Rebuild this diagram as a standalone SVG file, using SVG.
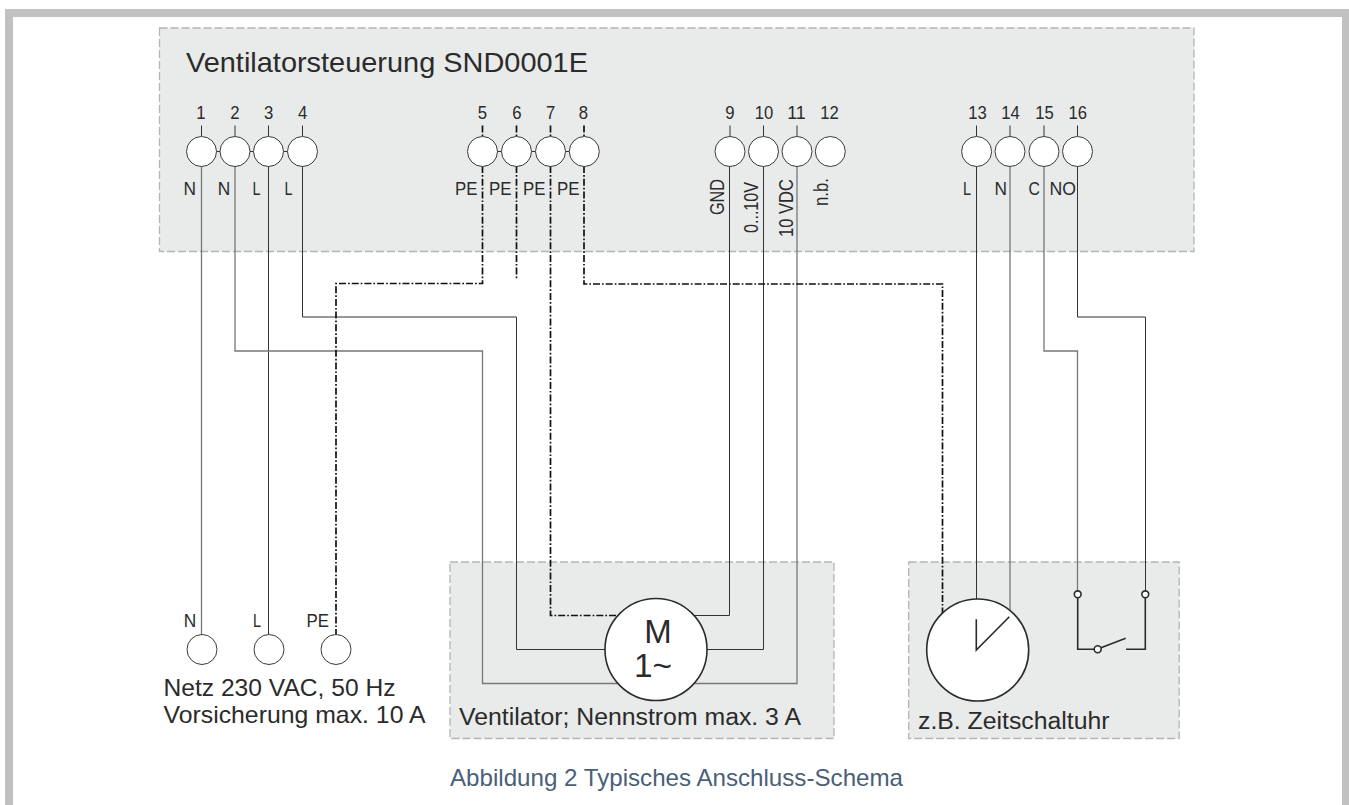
<svg xmlns="http://www.w3.org/2000/svg" width="1349" height="805" viewBox="0 0 1349 805">
<style>
text{font-family:"Liberation Sans",Arial,sans-serif;fill:#2b2b2b}
.box{fill:#e9eaea;stroke:#b5b5b5;stroke-width:1.3;stroke-dasharray:8 3}
.t{fill:#fff;stroke:#3a3a3a;stroke-width:1}
.w{fill:none;stroke:#333;stroke-width:1}
.g{fill:none;stroke:#777;stroke-width:1.3}
.pe{fill:none;stroke:#111;stroke-width:1.7;stroke-dasharray:7 2 1.7 2}
.big{fill:#fff;stroke:#2b2b2b;stroke-width:1.6}
.sw{fill:none;stroke:#2b2b2b;stroke-width:1.6}
.n{font-size:19px;text-anchor:middle}
.l{font-size:18.5px}
.r{font-size:20px}
</style>
<g id="frame"><path d="M9 805V13H1346V805" fill="none" stroke="#c1c1c1" stroke-width="8"/></g>
<g id="boxes">
<rect id="controller" class="box" x="159.5" y="28" width="1034.5" height="223.5"/>
<rect id="fan" class="box" x="450" y="562" width="384" height="176.5"/>
<rect id="timer" class="box" x="908.7" y="562" width="270.5" height="176.5"/>
</g>
<g id="connectors">
<path class="w" d="M201.5 125.500V136M235 125.500V136M268.500 125.500V136M302.500 125.500V136M730 125.500V136M763.500 125.500V136M797 125.500V136M976.500 125.500V136M1010 125.500V136M1044 125.500V136M1077.500 125.500V136"/>
<path class="pe" d="M482.500 125.500V136M516.500 125.500V136M550.500 125.500V136M584 125.500V136"/>
<path class="w" d="M216.500 151.500H220.500M250 151.500H253.500M283.500 151.500H287.500M497.500 151.500H501.500M531.500 151.500H535.500M565.500 151.500H569"/>
<path class="g" d="M201.500 166V634"/>
<path class="w" d="M268.500 166V634"/>
<path class="g" d="M235 166V351H482.500V683.500H640"/>
<path class="w" d="M302.500 166V317H516.500V649.500H620"/>
<path class="w" d="M729.500 166V615.500H680"/>
<path class="w" d="M763.500 166V649.500H690"/>
<path class="g" d="M797 166V683.500H680"/>
<path class="w" d="M976.500 166V605"/>
<path class="g" d="M1010 166V615"/>
<path class="g" d="M1044 166V351H1077.500V591"/>
<path class="w" d="M1077.500 166V317H1145.500V591"/>
<path class="pe" d="M482.500 166V283.500H336V634"/>
<path class="pe" d="M516.500 166V279"/>
<path class="pe" d="M550.500 166V615.500H630"/>
<path class="pe" d="M584 166V284H942.500V613"/>
</g>
<g id="title"><text x="186" y="71.500" font-size="28.500" textLength="402" lengthAdjust="spacingAndGlyphs">Ventilatorsteuerung SND0001E</text></g>
<g id="terminal-1"><circle class="t" cx="201.500" cy="151.500" r="15"/><text class="n" x="201" y="119" textLength="9.300" lengthAdjust="spacingAndGlyphs">1</text><text class="l" x="183.500" y="195" textLength="12.500" lengthAdjust="spacingAndGlyphs">N</text></g>
<g id="terminal-2"><circle class="t" cx="235" cy="151.500" r="15"/><text class="n" x="235" y="119" textLength="9.300" lengthAdjust="spacingAndGlyphs">2</text><text class="l" x="217.800" y="195" textLength="12.500" lengthAdjust="spacingAndGlyphs">N</text></g>
<g id="terminal-3"><circle class="t" cx="268.500" cy="151.500" r="15"/><text class="n" x="268.700" y="119" textLength="9.300" lengthAdjust="spacingAndGlyphs">3</text><text class="l" x="252.500" y="195" textLength="8" lengthAdjust="spacingAndGlyphs">L</text></g>
<g id="terminal-4"><circle class="t" cx="302.500" cy="151.500" r="15"/><text class="n" x="302.700" y="119" textLength="9.300" lengthAdjust="spacingAndGlyphs">4</text><text class="l" x="284.500" y="195" textLength="8" lengthAdjust="spacingAndGlyphs">L</text></g>
<g id="terminal-5"><circle class="t" cx="482.500" cy="151.500" r="15"/><text class="n" x="482.300" y="119" textLength="9.300" lengthAdjust="spacingAndGlyphs">5</text><text class="l" x="455" y="195" textLength="22.500" lengthAdjust="spacingAndGlyphs">PE</text></g>
<g id="terminal-6"><circle class="t" cx="516.500" cy="151.500" r="15"/><text class="n" x="517" y="119" textLength="9.300" lengthAdjust="spacingAndGlyphs">6</text><text class="l" x="489" y="195" textLength="22.500" lengthAdjust="spacingAndGlyphs">PE</text></g>
<g id="terminal-7"><circle class="t" cx="550.500" cy="151.500" r="15"/><text class="n" x="550.700" y="119" textLength="9.300" lengthAdjust="spacingAndGlyphs">7</text><text class="l" x="523" y="195" textLength="22.500" lengthAdjust="spacingAndGlyphs">PE</text></g>
<g id="terminal-8"><circle class="t" cx="584.300" cy="151.500" r="15"/><text class="n" x="583.300" y="119" textLength="9.300" lengthAdjust="spacingAndGlyphs">8</text><text class="l" x="557" y="195" textLength="22.500" lengthAdjust="spacingAndGlyphs">PE</text></g>
<g id="terminal-9"><circle class="t" cx="730" cy="151.500" r="15"/><text class="n" x="730" y="119" textLength="9.300" lengthAdjust="spacingAndGlyphs">9</text><text class="r" transform="translate(724.300 215) rotate(-90)" textLength="36" lengthAdjust="spacingAndGlyphs">GND</text></g>
<g id="terminal-10"><circle class="t" cx="763.500" cy="151.500" r="15"/><text class="n" x="764" y="119" textLength="18.500" lengthAdjust="spacingAndGlyphs">10</text><text class="r" transform="translate(758.300 233) rotate(-90)" textLength="51" lengthAdjust="spacingAndGlyphs">0...10V</text></g>
<g id="terminal-11"><circle class="t" cx="797" cy="151.500" r="15"/><text class="n" x="796.500" y="119" textLength="18.500" lengthAdjust="spacingAndGlyphs">11</text><text class="r" transform="translate(792.700 237) rotate(-90)" textLength="58" lengthAdjust="spacingAndGlyphs">10 VDC</text></g>
<g id="terminal-12"><circle class="t" cx="830.300" cy="151.500" r="15"/><text class="n" x="829.600" y="119" textLength="18.500" lengthAdjust="spacingAndGlyphs">12</text><text class="r" transform="translate(828.300 206) rotate(-90)" textLength="28" lengthAdjust="spacingAndGlyphs">n.b.</text></g>
<g id="terminal-13"><circle class="t" cx="976.600" cy="151.500" r="15"/><text class="n" x="977.400" y="119" textLength="18.500" lengthAdjust="spacingAndGlyphs">13</text><text class="l" x="963" y="195" textLength="8" lengthAdjust="spacingAndGlyphs">L</text></g>
<g id="terminal-14"><circle class="t" cx="1010" cy="151.500" r="15"/><text class="n" x="1010.500" y="119" textLength="18.500" lengthAdjust="spacingAndGlyphs">14</text><text class="l" x="994.500" y="195" textLength="12.500" lengthAdjust="spacingAndGlyphs">N</text></g>
<g id="terminal-15"><circle class="t" cx="1044" cy="151.500" r="15"/><text class="n" x="1044.400" y="119" textLength="18.500" lengthAdjust="spacingAndGlyphs">15</text><text class="l" x="1028.500" y="195" textLength="11.400" lengthAdjust="spacingAndGlyphs">C</text></g>
<g id="terminal-16"><circle class="t" cx="1077.500" cy="151.500" r="15"/><text class="n" x="1077.800" y="119" textLength="18.500" lengthAdjust="spacingAndGlyphs">16</text><text class="l" x="1049.500" y="195" textLength="26.500" lengthAdjust="spacingAndGlyphs">NO</text></g>
<g id="mains-n"><circle class="t" cx="202" cy="649.500" r="15"/><text class="l" x="183.800" y="626.700" textLength="12.500" lengthAdjust="spacingAndGlyphs">N</text></g>
<g id="mains-l"><circle class="t" cx="269" cy="649.500" r="15"/><text class="l" x="253" y="626.700" textLength="8" lengthAdjust="spacingAndGlyphs">L</text></g>
<g id="mains-pe"><circle class="t" cx="336" cy="649.500" r="15"/><text class="l" x="306.500" y="626.700" textLength="22.500" lengthAdjust="spacingAndGlyphs">PE</text></g>
<g id="mains-label"><text x="163.500" y="695.700" font-size="24" textLength="232" lengthAdjust="spacingAndGlyphs">Netz 230 VAC, 50 Hz</text><text x="163.500" y="723" font-size="24" textLength="262" lengthAdjust="spacingAndGlyphs">Vorsicherung max. 10 A</text></g>
<g id="motor"><circle class="big" cx="656" cy="649.500" r="51"/><text x="658" y="642.700" font-size="33" text-anchor="middle">M</text><text x="653" y="677.300" font-size="33" text-anchor="middle" textLength="38" lengthAdjust="spacingAndGlyphs">1~</text></g>
<g id="fan-label"><text x="459" y="725" font-size="23.500" textLength="342" lengthAdjust="spacingAndGlyphs">Ventilator; Nennstrom max. 3 A</text></g>
<g id="clock"><circle class="big" cx="977.700" cy="650" r="51"/><path class="sw" d="M976.300 619.300V650L1009.300 616.700"/></g>
<g id="switch"><path class="sw" d="M1077.700 598V649.300H1094.200M1101 647.800L1125.700 638.300M1126 649.300H1145.300V598"/><circle class="big" cx="1077.700" cy="594.300" r="3.400"/><circle class="big" cx="1145.300" cy="594.300" r="3.400"/><circle class="big" cx="1097.700" cy="649.300" r="3.500"/></g>
<g id="timer-label"><text x="918" y="729" font-size="24.700" textLength="191.500" lengthAdjust="spacingAndGlyphs">z.B. Zeitschaltuhr</text></g>
<g id="caption"><text x="450" y="786" font-size="24" style="fill:#4a6078" textLength="453" lengthAdjust="spacingAndGlyphs">Abbildung 2 Typisches Anschluss-Schema</text></g>
</svg>
